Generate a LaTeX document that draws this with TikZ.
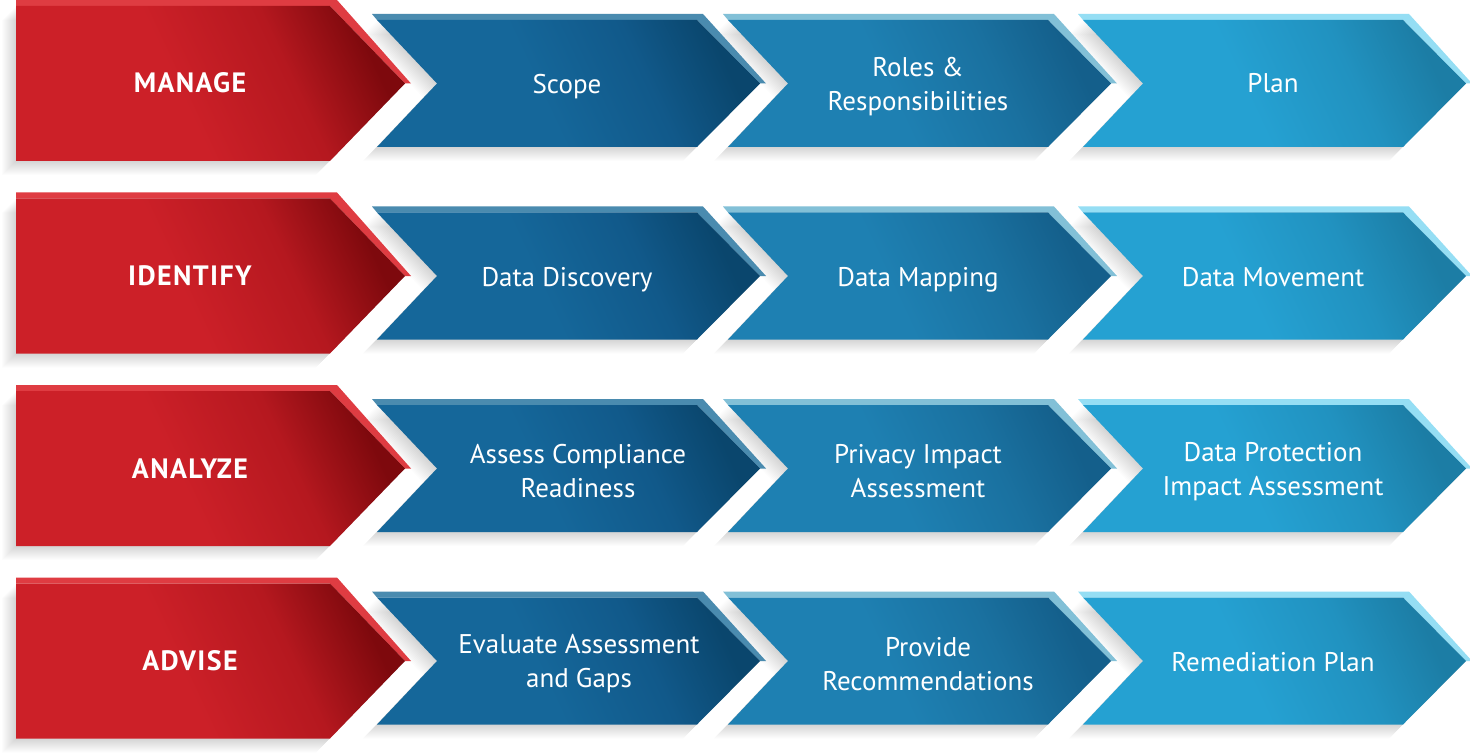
\documentclass[tikz,border=0pt]{standalone}
\usepackage{fontspec}
\setmainfont{PT Sans}
\definecolor{redL}{HTML}{CC2028}
\definecolor{redM}{HTML}{B5181F}
\definecolor{redR}{HTML}{7E090D}
\definecolor{redS}{HTML}{DF3C42}
\definecolor{bOneL}{HTML}{15679A}
\definecolor{bOneM}{HTML}{11598A}
\definecolor{bOneR}{HTML}{0A466D}
\definecolor{bOneS}{HTML}{4A8BAF}
\definecolor{bTwoL}{HTML}{1E80B2}
\definecolor{bTwoM}{HTML}{1A71A0}
\definecolor{bTwoR}{HTML}{145F8B}
\definecolor{bTwoS}{HTML}{82C0D7}
\definecolor{bThrL}{HTML}{25A1D2}
\definecolor{bThrM}{HTML}{2192C0}
\definecolor{bThrR}{HTML}{1C7DA5}
\definecolor{bThrS}{HTML}{95DEF4}
\pgfdeclarehorizontalshading{redsh}{100bp}{color(0bp)=(redL); color(25bp)=(redL); color(45bp)=(redL); color(62bp)=(redM); color(75bp)=(redR); color(100bp)=(redR)}
\pgfdeclarehorizontalshading{bOnesh}{100bp}{color(0bp)=(bOneL); color(25bp)=(bOneL); color(45bp)=(bOneL); color(62bp)=(bOneM); color(75bp)=(bOneR); color(100bp)=(bOneR)}
\pgfdeclarehorizontalshading{bTwosh}{100bp}{color(0bp)=(bTwoL); color(25bp)=(bTwoL); color(45bp)=(bTwoL); color(62bp)=(bTwoM); color(75bp)=(bTwoR); color(100bp)=(bTwoR)}
\pgfdeclarehorizontalshading{bThrsh}{100bp}{color(0bp)=(bThrL); color(25bp)=(bThrL); color(45bp)=(bThrL); color(62bp)=(bThrM); color(75bp)=(bThrR); color(100bp)=(bThrR)}
\newcommand\RedBody{(16,6) -- (330,6) -- (405,83.5) -- (330,161) -- (16,161) -- cycle}
\newcommand\RedStrip{(16,0) -- (337,0) -- (411,83.5) -- (405,83.5) -- (330,6) -- (16,6) -- cycle}
\newcommand\BlueBody[1]{(#1,20) -- ({#1+320},20) -- ({#1+383},83.5) -- ({#1+320},147) -- (#1,147) -- ({#1+60},83.5) -- cycle}
\newcommand\BlueStrip[1]{({#1-5},14) -- ({#1+326},14) -- ({#1+389},83.5) -- ({#1+383},83.5) -- ({#1+320},20) -- (#1,20) -- cycle}
\tikzset{
  shadowlayer/.style={fill=black, opacity=0.012},
  redtxt/.style={text=white, font=\fontsize{28}{32}\selectfont\bfseries\addfontfeature{LetterSpace=5}, align=center, inner sep=0pt, text height=20pt, text depth=6pt},
  bluetxt/.style={text=white, font=\fontsize{27}{34}\selectfont, align=center, inner sep=0pt, text height=20pt, text depth=6pt},
  bluetwo/.style={text=white, font=\fontsize{27}{34}\selectfont, align=center, inner sep=0pt}
}
\begin{document}
\begin{tikzpicture}[x=1pt,y=-1pt]
\useasboundingbox (0,0) rectangle (1470,754);
\fill[white] (0,0) rectangle (1470,754);
% shadows
\foreach \r in {0,1,2,3}{
  \begin{scope}[shift={(0,192.5*\r)}]
    \foreach \k in {1,...,14}{
      \begin{scope}[shift={(-\k,\k)}]
        \fill[shadowlayer] \RedBody;
        \foreach \x in {377,728,1083}{ \fill[shadowlayer] \BlueBody{\x}; }
      \end{scope}
    }
  \end{scope}
}
% shapes
\foreach \r in {0,1,2,3}{
  \begin{scope}[shift={(0,192.5*\r)}]
    \fill[redS] \RedStrip;
    \shade[shading=redsh, shading angle=25] \RedBody;
    \foreach \x/\sh/\st in {377/bOnesh/bOneS, 728/bTwosh/bTwoS, 1083/bThrsh/bThrS}{
      \fill[\st] \BlueStrip{\x};
      \shade[shading=\sh, shading angle=25] \BlueBody{\x};
    }
  \end{scope}
}
% labels
\node[redtxt] (manage) at (190,86) {MANAGE};
\node[redtxt] (identify) at (190,278.5) {IDENTIFY};
\node[redtxt] (analyze) at (190,471) {ANALYZE};
\node[redtxt] (advise) at (190,663.5) {ADVISE};
\node[bluetxt] (scope) at (567,87) {Scope};
\node[bluetwo] (roles) at (918,86.5) {Roles \&\\Responsibilities};
\node[bluetxt] (plan) at (1273,86) {Plan};
\node[bluetxt] (discovery) at (567,279) {Data Discovery};
\node[bluetxt] (mapping) at (918,279) {Data Mapping};
\node[bluetxt] (movement) at (1273,279) {Data Movement};
\node[bluetwo] (assess) at (578,471.5) {Assess Compliance\\Readiness};
\node[bluetwo] (privacy) at (918,471.5) {Privacy Impact\\Assessment};
\node[bluetwo] (dpia) at (1273,471.5) {Data Protection\\Impact Assessment};
\node[bluetwo] (evaluate) at (579,664) {Evaluate Assessment\\and Gaps};
\node[bluetwo] (provide) at (928,664) {Provide\\Recommendations};
\node[bluetxt] (remed) at (1273,664) {Remediation Plan};
\end{tikzpicture}
\end{document}
